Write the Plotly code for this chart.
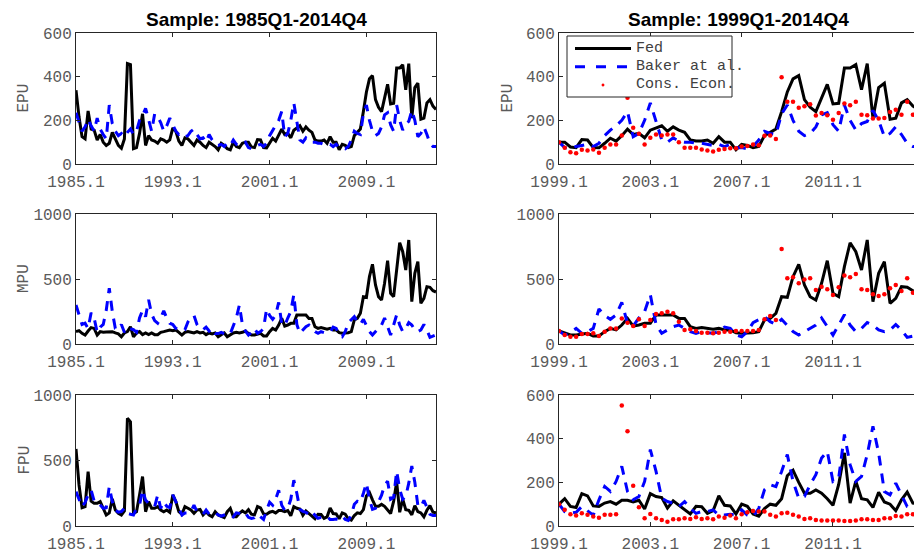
import plotly.graph_objects as go

# ---------------------------------------------------------------------------
# Quarterly uncertainty indices
# Long sample 1985Q1-2014Q4 = 1985Q1-1998Q4 block + 1999Q1-2014Q4 block
# ---------------------------------------------------------------------------

# 1985Q1-1998Q4 (56 quarters)
epu_fed_early = [338, 215, 125, 115, 243, 160, 155, 110, 135, 100,
                 85, 95, 145, 115, 85, 72, 115, 460, 455, 70,
                 75, 140, 230, 85, 130, 110, 105, 95, 115, 110,
                 100, 110, 165, 150, 105, 85, 120, 115, 100, 85,
                 110, 100, 85, 75, 100, 90, 80, 65, 95, 85,
                 70, 65, 100, 80, 75, 95]
epu_baker_early = [235, 195, 150, 170, 205, 175, 150, 210, 160, 135,
                   115, 270, 185, 150, 130, 140, 125, 145, 160, 135,
                   150, 200, 220, 255, 195, 150, 230, 215, 190, 150,
                   175, 210, 180, 150, 135, 140, 125, 130, 150, 160,
                   135, 115, 120, 100, 135, 110, 95, 85, 90, 80,
                   95, 85, 110, 90, 85, 95]
mpu_fed_early = [95, 103, 82, 69, 100, 126, 120, 69, 95, 90,
                 92, 92, 95, 85, 78, 56, 85, 95, 133, 56,
                 85, 95, 72, 85, 72, 85, 72, 72, 90, 95,
                 103, 108, 103, 108, 90, 69, 90, 95, 90, 85,
                 95, 85, 90, 72, 85, 78, 85, 56, 72, 85,
                 56, 72, 85, 90, 85, 90]
mpu_baker_early = [300, 220, 150, 160, 120, 240, 200, 90, 130, 150,
                   260, 430, 250, 120, 110, 150, 90, 125, 120, 110,
                   90, 200, 260, 210, 340, 230, 180, 160, 200, 256,
                   200, 160, 150, 120, 110, 100, 110, 170, 200, 220,
                   150, 120, 110, 130, 100, 120, 80, 80, 90, 80,
                   70, 80, 140, 200, 300, 150]
fpu_fed_early = [588, 313, 140, 148, 415, 190, 173, 173, 186, 135,
                 84, 100, 206, 122, 97, 84, 115, 822, 796, 97,
                 109, 237, 377, 109, 186, 135, 135, 148, 122, 109,
                 122, 104, 237, 186, 109, 89, 148, 135, 122, 97,
                 122, 127, 84, 109, 84, 71, 109, 84, 71, 64,
                 109, 135, 71, 71, 97, 115]
fpu_baker_early = [262, 211, 148, 180, 237, 275, 190, 186, 160, 135,
                   140, 300, 186, 122, 105, 110, 135, 97, 90, 84,
                   135, 160, 275, 198, 173, 160, 148, 237, 135, 186,
                   150, 140, 237, 186, 135, 84, 100, 100, 110, 160,
                   110, 97, 90, 122, 90, 95, 105, 84, 75, 84,
                   95, 84, 71, 100, 95, 84]

# 1999Q1-2014Q4 (64 quarters)
epu_fed = [100, 100, 78, 75, 112, 110, 75, 74, 95, 118,
           105, 130, 160, 135, 140, 120, 155, 165, 175, 150,
           170, 155, 145, 110, 105, 105, 110, 95, 125, 100,
           100, 65, 90, 85, 75, 80, 130, 145, 160, 240,
           330, 390, 405, 295, 260, 240, 300, 365, 275, 278,
           440, 440, 455, 340, 460, 210, 350, 370, 205, 210,
           280, 295, 265, 250]
epu_baker = [100, 75, 70, 80, 85, 90, 80, 95, 130, 155,
             175, 200, 240, 125, 140, 200, 280, 200, 110, 100,
             120, 105, 100, 100, 95, 95, 90, 85, 90, 80,
             90, 75, 75, 70, 80, 110, 150, 140, 135, 230,
             270, 200, 150, 130, 140, 170, 225, 235, 180, 150,
             270, 200, 155, 185, 195, 245, 200, 125, 140, 170,
             135, 95, 80, 80]
epu_cons = [100, 75, 54, 49, 65, 62, 66, 51, 74, 89,
            89, 130, 303, 166, 138, 89, 120, 135, 131, 135,
            135, 100, 74, 75, 75, 66, 62, 57, 65, 69,
            72, 72, 80, 83, 89, 86, 129, 131, 114, 397,
            285, 285, 258, 265, 274, 222, 234, 223, 203, 234,
            277, 269, 285, 226, 223, 208, 208, 211, 238, 249,
            226, 285, 226, 230]

mpu_fed = [100, 82, 69, 69, 74, 82, 62, 62, 95, 120,
           108, 146, 197, 138, 146, 159, 159, 223, 223, 223,
           223, 197, 197, 133, 120, 126, 120, 113, 120, 108,
           108, 87, 82, 82, 87, 95, 185, 197, 236, 364,
           359, 518, 613, 454, 364, 338, 467, 641, 390, 364,
           595, 779, 710, 569, 800, 326, 544, 633, 313, 351,
           441, 436, 410, 400]
mpu_baker = [100, 69, 90, 120, 82, 95, 120, 270, 220, 190,
             223, 320, 159, 140, 200, 250, 380, 150, 82, 108,
             133, 146, 120, 95, 82, 95, 87, 82, 95, 130,
             120, 69, 56, 95, 164, 190, 210, 172, 150, 190,
             146, 95, 69, 95, 115, 146, 200, 133, 69, 146,
             225, 146, 95, 120, 165, 146, 108, 95, 108, 150,
             108, 51, 60, 70]
mpu_cons = [100, 69, 56, 56, 77, 77, 82, 62, 95, 120,
            120, 197, 164, 138, 190, 138, 185, 231, 236, 249,
            236, 172, 108, 113, 100, 87, 87, 82, 87, 95,
            95, 100, 100, 100, 100, 108, 190, 215, 185, 731,
            505, 513, 467, 497, 505, 415, 441, 421, 377, 436,
            526, 513, 538, 421, 415, 382, 369, 382, 428, 454,
            408, 505, 395, 400]

fpu_fed = [100, 125, 90, 85, 148, 138, 92, 90, 105, 112,
           100, 118, 118, 110, 118, 78, 148, 135, 130, 82,
           115, 95, 75, 55, 90, 88, 58, 70, 138, 95,
           92, 55, 100, 90, 55, 45, 80, 100, 95, 125,
           230, 255, 200, 150, 150, 165, 150, 125, 95, 190,
           335, 105, 205, 125, 120, 85, 155, 110, 100, 70,
           120, 155, 105, 100]
fpu_baker = [100, 66, 58, 63, 89, 70, 50, 120, 181, 158,
             204, 273, 158, 120, 135, 204, 350, 250, 127, 112,
             104, 89, 112, 81, 58, 66, 66, 74, 50, 50,
             54, 50, 74, 50, 43, 81, 166, 189, 180, 250,
             327, 204, 127, 135, 189, 235, 311, 342, 204, 219,
             419, 281, 204, 227, 327, 457, 334, 158, 143, 196,
             143, 89, 81, 80]
fpu_cons = [100, 74, 54, 48, 58, 51, 43, 38, 51, 51,
            54, 552, 434, 184, 86, 35, 55, 35, 28, 20,
            31, 31, 35, 32, 40, 32, 35, 31, 43, 38,
            48, 35, 54, 63, 69, 66, 66, 51, 43, 58,
            61, 51, 43, 32, 35, 28, 25, 25, 25, 25,
            23, 23, 25, 31, 31, 28, 28, 35, 35, 46,
            43, 54, 54, 55]

indices = ["EPU", "MPU", "FPU"]
titles = ["Sample: 1985Q1-2014Q4", "Sample: 1999Q1-2014Q4"]
series_names = ["Fed", "Baker at al.", "Cons. Econ."]
long_ticks = [1985, 1993, 2001, 2009]
long_ticktext = ["1985.1", "1993.1", "2001.1", "2009.1"]
short_ticks = [1999, 2003, 2007, 2011]
short_ticktext = ["1999.1", "2003.1", "2007.1", "2011.1"]
y_ticks = {"EPU": ([0, 200, 400, 600], [0, 600]),
           "MPU": ([0, 500, 1000], [0, 1000]),
           "FPU": ([0, 500, 1000], [0, 1000])}
fpu_short_ticks = ([0, 200, 400, 600], [0, 600])

long_q = [1985 + i / 4 for i in range(120)]
short_q = [1999 + j / 4 for j in range(64)]

data = {
    "EPU": (epu_fed_early + epu_fed, epu_baker_early + epu_baker, epu_cons),
    "MPU": (mpu_fed_early + mpu_fed, mpu_baker_early + mpu_baker, mpu_cons),
    "FPU": (fpu_fed_early + fpu_fed, fpu_baker_early + fpu_baker, fpu_cons),
}

# ---------------------------------------------------------------------------
W, H = 914, 554


def fx(p):
    return p / W


def fy(p):
    return 1 - p / H


FED_C, BAKER_C, CONS_C = "#000000", "#0000ff", "#ff0000"
AX_C = "#262626"
MONO = "Liberation Mono, Courier New, monospace"
TICK_FONT = dict(family=MONO, size=16, color="#5a5a5a")
DASH = "10px,8px"

col_dom = [[fx(76), fx(436)], [fx(559), 1.0]]
row_px = [(33, 164), (214, 344), (395, 526)]
x_range = [[1985, 2014.75], [1999, 1999 + (914 - 559) / 5.708 / 4]]

fig = go.Figure()
layout = {}

for r, name in enumerate(indices):
    fed_long, baker_long, cons = data[name]
    for c in range(2):
        k = r * 2 + c + 1
        xa, ya = f"x{k}", f"y{k}"
        if c == 0:
            xs = long_q
            fed, baker = fed_long, baker_long
        else:
            xs = short_q
            fed, baker = fed_long[56:], baker_long[56:]
        fig.add_trace(go.Scatter(x=xs, y=fed, mode="lines", name=series_names[0],
                                 line=dict(color=FED_C, width=3),
                                 xaxis=xa, yaxis=ya, showlegend=False))
        fig.add_trace(go.Scatter(x=xs, y=baker, mode="lines", name=series_names[1],
                                 line=dict(color=BAKER_C, width=3, dash=DASH),
                                 xaxis=xa, yaxis=ya, showlegend=False))
        if c == 1:
            fig.add_trace(go.Scatter(x=xs, y=cons, mode="markers", name=series_names[2],
                                     marker=dict(color=CONS_C, size=4.5),
                                     xaxis=xa, yaxis=ya, showlegend=False))

        top, bot = row_px[r]
        if c == 1 and name == "FPU":
            tv, yr = fpu_short_ticks
        else:
            tv, yr = y_ticks[name]
        common = dict(showline=True, linecolor=AX_C, linewidth=1, ticks="inside",
                      ticklen=4, tickcolor=AX_C, showgrid=False, zeroline=False,
                      tickfont=TICK_FONT, automargin=False)
        layout[f"xaxis{k}"] = dict(
            domain=col_dom[c], anchor=ya, range=x_range[c],
            tickvals=long_ticks if c == 0 else short_ticks,
            ticktext=long_ticktext if c == 0 else short_ticktext,
            mirror="ticks", ticklabelstandoff=3, **common)
        layout[f"yaxis{k}"] = dict(
            domain=[fy(bot), fy(top)], anchor=xa, range=yr, tickvals=tv,
            mirror="ticks" if c == 0 else False, **common)

annotations = []
# panel titles
for c, t in enumerate(titles):
    annotations.append(dict(text=f"<b>{t}</b>", x=fx(256 if c == 0 else 738), y=fy(19),
                            xref="paper", yref="paper", showarrow=False,
                            xanchor="center", yanchor="middle",
                            font=dict(family="Liberation Sans, Arial", size=19, color="#000")))
# y-axis labels
for r, name in enumerate(indices):
    top, bot = row_px[r]
    annotations.append(dict(text=name, x=fx(24), y=fy((top + bot) / 2), textangle=-90,
                            xref="paper", yref="paper", showarrow=False,
                            xanchor="center", yanchor="middle",
                            font=dict(family=MONO, size=16, color="#5a5a5a")))
annotations.append(dict(text=indices[0], x=fx(508), y=fy((row_px[0][0] + row_px[0][1]) / 2),
                        textangle=-90, xref="paper", yref="paper", showarrow=False,
                        xanchor="center", yanchor="middle",
                        font=dict(family=MONO, size=16, color="#5a5a5a")))

# legend box in the upper-right panel
shapes = []
lx0, lx1, ly0, ly1 = 567, 732, 36, 97
shapes.append(dict(type="rect", xref="paper", yref="paper", layer="above",
                   x0=fx(lx0), x1=fx(lx1), y0=fy(ly1), y1=fy(ly0),
                   fillcolor="white", line=dict(color=AX_C, width=1)))
entry_y = [48.5, 66.7, 85]
shapes.append(dict(type="line", xref="paper", yref="paper", layer="above",
                   x0=fx(575), x1=fx(631), y0=fy(entry_y[0]), y1=fy(entry_y[0]),
                   line=dict(color=FED_C, width=3)))
shapes.append(dict(type="line", xref="paper", yref="paper", layer="above",
                   x0=fx(575), x1=fx(631), y0=fy(entry_y[1]), y1=fy(entry_y[1]),
                   line=dict(color=BAKER_C, width=3, dash="10px,11px")))
shapes.append(dict(type="circle", xref="paper", yref="paper", layer="above",
                   x0=fx(601.8), x1=fx(604.2), y0=fy(entry_y[2] + 1.2), y1=fy(entry_y[2] - 1.2),
                   fillcolor=CONS_C, line=dict(color=CONS_C, width=0.5)))
for name, yy in zip(series_names, entry_y):
    annotations.append(dict(text=name, x=fx(634), y=fy(yy), xref="paper", yref="paper",
                            showarrow=False, xanchor="left", yanchor="middle",
                            font=dict(family=MONO, size=15, color="#404040")))

fig.update_layout(
    width=W, height=H, margin=dict(l=0, r=0, t=0, b=0),
    paper_bgcolor="white", plot_bgcolor="white",
    annotations=annotations, shapes=shapes, showlegend=False,
    **layout,
)

fig.write_html("out.html")
